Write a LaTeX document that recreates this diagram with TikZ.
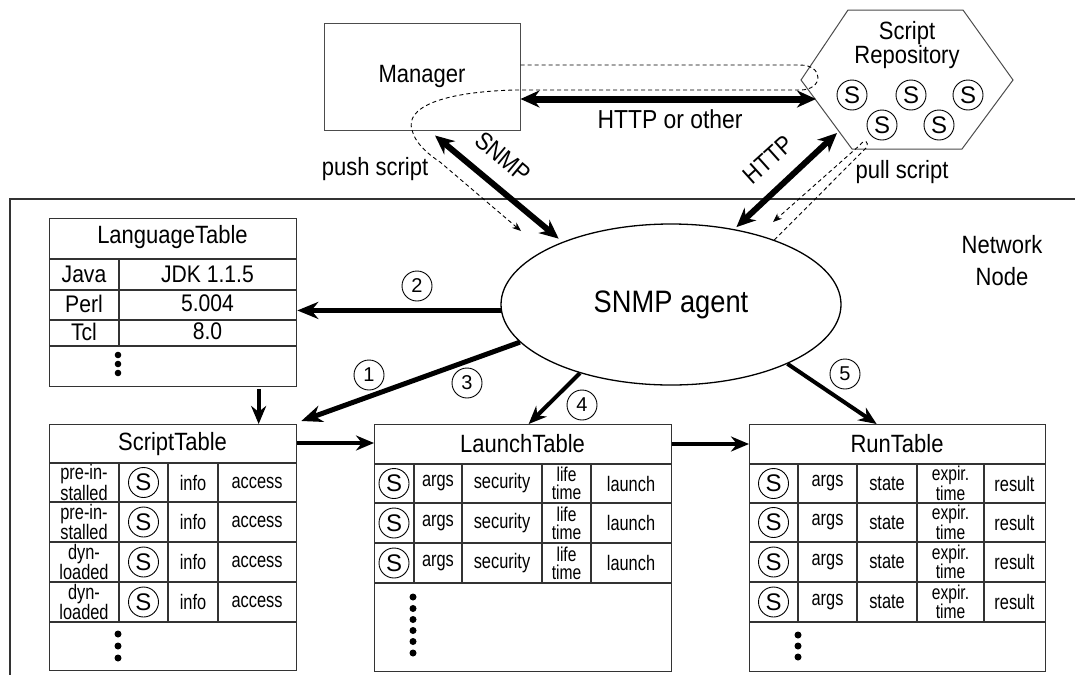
\documentclass[tikz,border=0pt]{standalone}
\usepackage{fontspec}
\setmainfont[FakeStretch=0.88]{Liberation Sans}
\newfontfamily\cellfont[FakeStretch=0.78]{Liberation Sans}
\newfontfamily\plainsans{Liberation Sans}
\usetikzlibrary{arrows.meta,shapes.geometric,calc}

\tikzset{
  tabbox/.style={draw=black!80, line width=1.3pt, anchor=north west, inner sep=0pt},
  tabline/.style={draw=black!80, line width=1.3pt},
  tabtitle/.style={font=\fontsize{25}{25}\selectfont, inner sep=0pt},
  langcell/.style={font=\fontsize{24}{24}\selectfont, inner sep=0pt},
  tabcell/.style={font=\cellfont\fontsize{21}{19}\selectfont, inner sep=0pt, align=center},
  twoline/.style={font=\cellfont\fontsize{20}{18}\selectfont, inner sep=0pt, align=center},
  sbadge/.style={circle, draw=black, line width=0.9pt, minimum size=30pt, inner sep=0pt,
                 font=\plainsans\fontsize{24}{24}\selectfont},
  stepnum/.style={circle, draw=black, line width=0.9pt, minimum size=30pt, inner sep=0pt,
                  font=\plainsans\fontsize{20}{20}\selectfont},
  lbl/.style={font=\fontsize{25}{24}\selectfont, inner sep=0pt, align=center},
  dashline/.style={line width=0.9pt, dash pattern=on 4pt off 3pt,
                   -{Stealth[length=9pt,width=7pt]}},
  fatarrow/.style={line width=5pt, -{Stealth[length=21pt,width=17pt]}},
  midarrow/.style={line width=4pt, -{Stealth[length=18pt,width=15pt]}},
  bothways/.style={line width=6pt, {Stealth[length=19pt,width=17pt]}-{Stealth[length=19pt,width=17pt]}},
  dot/.style={fill=black}
}

\begin{document}
\begin{tikzpicture}[x=1pt,y=-1pt]
\useasboundingbox (0,0) rectangle (1075,675);
\fill[white] (0,0) rectangle (1075,675);

% boundary of the network node
\draw[line width=1.1pt, black!80] (1075,199) -- (10,199) -- (10,675);
\node[lbl, font=\fontsize{25}{32}\selectfont] (net) at (1002,261) {Network\\Node};

% manager
\node[draw=black!70, line width=1pt, minimum width=196pt, minimum height=107pt,
      font=\fontsize{25}{25}\selectfont] (mgr) at (422,76.5) {Manager};

% script repository
\coordinate (hxa) at (848,10);
\coordinate (hxb) at (963,10);
\coordinate (hxc) at (1013,80);
\coordinate (hxd) at (962,149);
\coordinate (hxe) at (852,149);
\coordinate (hxf) at (801,80);
\draw[black!70, line width=1pt] (hxa) -- (hxb) -- (hxc) -- (hxd) -- (hxe) -- (hxf) -- cycle;
\node[lbl] (repo) at (907,45) {Script\\Repository};
\node[sbadge] (rs1) at (852,95) {S};
\node[sbadge] (rs2) at (911,95) {S};
\node[sbadge] (rs3) at (968,95) {S};
\node[sbadge] (rs4) at (882,125) {S};
\node[sbadge] (rs5) at (939,125) {S};
\coordinate (repoleft) at (816,99);
\coordinate (repolow) at (837,133);

% SNMP agent
\node[ellipse, draw=black, line width=1.3pt, minimum width=340pt, minimum height=161pt,
      inner sep=0pt, font=\fontsize{31}{31}\selectfont] (agent) at (671,304.5) {SNMP agent};

% LanguageTable
\node[tabbox, minimum width=247pt, minimum height=168pt] (langtab) at (49,218) {};
\draw[tabline] (49,259) -- (296,259);
\draw[tabline] (49,290) -- (296,290);
\draw[tabline] (49,320) -- (296,320);
\draw[tabline] (49,346) -- (296,346);
\draw[tabline] (119,259) -- (119,346);
\node[tabtitle] (langtitle) at (172.5,237) {LanguageTable};
\node[langcell] (lj) at (84,274) {Java};
\node[langcell] (ljv) at (207.5,274) {JDK 1.1.5};
\node[langcell] (lp) at (84,304) {Perl};
\node[langcell] (lpv) at (207.5,303) {5.004};
\node[langcell] (lt) at (84,332) {Tcl};
\node[langcell] (ltv) at (207.5,331) {8.0};
\foreach \y in {355,364,373} \fill[dot] (118,\y) circle (3.3pt);

% ScriptTable
\node[tabbox, minimum width=247pt, minimum height=246pt] (scripttab) at (49,424) {};
\foreach \y in {463,502,542,582,622} \draw[tabline] (49,\y) -- (296,\y);
\foreach \x in {119,168,218} \draw[tabline] (\x,463) -- (\x,622);
\node[tabtitle] (scripttitle) at (172.5,444) {ScriptTable};
\foreach \y/\a/\b [count=\i] in {482.5/pre-in-/stalled, 522/pre-in-/stalled,
                                 562/dyn-/loaded, 602/dyn-/loaded} {
  \node[tabcell] (sk\i) at (84,\y) {\a\\\b};
  \node[sbadge] (ss\i) at (143.5,\y) {S};
  \node[tabcell] (si\i) at (193,\y) {info};
  \node[tabcell] (sa\i) at (257,\y) {access};
}
\foreach \y in {634,646,658} \fill[dot] (118,\y) circle (3.5pt);

% LaunchTable
\node[tabbox, minimum width=297pt, minimum height=247pt] (launchtab) at (374,424) {};
\foreach \y in {464,503,543,583} \draw[tabline] (374,\y) -- (671,\y);
\foreach \x in {414,462,542,591} \draw[tabline] (\x,464) -- (\x,583);
\node[tabtitle] (launchtitle) at (522.5,444) {LaunchTable};
\foreach \y [count=\i] in {483.5,523,563} {
  \node[sbadge] (ls\i) at (394,\y) {S};
  \node[tabcell] (la\i) at (438,\y) {args};
  \node[tabcell] (lsec\i) at (502,\y) {security};
  \node[twoline] (ll\i) at (566.5,\y) {life\\time};
  \node[tabcell] (lx\i) at (631,\y) {launch};
}
\foreach \y in {597,608.5,619.5,630.5,641.5,653} \fill[dot] (413,\y) circle (3.5pt);

% RunTable
\node[tabbox, minimum width=296pt, minimum height=247pt] (runtab) at (749,424) {};
\foreach \y in {464,503,542,582,622} \draw[tabline] (749,\y) -- (1045,\y);
\foreach \x in {798,857,917,984} \draw[tabline] (\x,464) -- (\x,622);
\node[tabtitle] (runtitle) at (897,444) {RunTable};
\foreach \y [count=\i] in {483.5,522.5,562,602} {
  \node[sbadge] (rsx\i) at (773.5,\y) {S};
  \node[tabcell] (ra\i) at (827.5,\y) {args};
  \node[tabcell] (rst\i) at (887,\y) {state};
  \node[twoline] (re\i) at (950.5,\y) {expir.\\time};
  \node[tabcell] (rr\i) at (1014.5,\y) {result};
}
\foreach \y in {635,646,657} \fill[dot] (798,\y) circle (3.5pt);

% links between the tables
\draw[midarrow] ([xshift=85.5pt,yshift=-2pt]langtab.south) -- ([xshift=85.5pt]scripttab.north);
\draw[midarrow] ([yshift=-19pt]scripttab.north east) -- ([yshift=-19pt]launchtab.north west);
\draw[midarrow] ([yshift=-20pt]launchtab.north east) -- ([yshift=-20pt]runtab.north west);

% agent operations on the tables
\draw[fatarrow] (agent.182) -- (agent.182 -| langtab.east);
\draw[fatarrow] (agent.194) -- ([shift={(4pt,3pt)}]scripttab.north east);
\draw[midarrow] (agent.217) -- ([xshift=5.5pt]launchtab.north);
\draw[midarrow] (agent.333) -- ([xshift=-21pt]runtab.north);
\node[stepnum] (n1) at (369,375) {1};
\node[stepnum] (n2) at (417,286) {2};
\node[stepnum] (n3) at (467,383) {3};
\node[stepnum] (n4) at (582,405) {4};
\node[stepnum] (n5) at (845,374) {5};

% protocols
\draw[bothways, line width=7pt] ([yshift=-22.5pt]mgr.east) -- (repoleft);
\node[lbl, font=\fontsize{26}{26}\selectfont] (httpother) at (670,119) {HTTP or other};
\draw[bothways, shorten >=5pt] ([xshift=13pt,yshift=-5pt]mgr.south) -- (agent.150);
\node[lbl, rotate=-40] (snmplbl) at (503,157) {SNMP};
\draw[bothways, shorten <=3pt] (agent.50) -- (repolow);
\node[lbl, rotate=42] (httplbl) at (768,160) {HTTP};

% script transfers
\draw[dashline] ([yshift=11.5pt]mgr.east) -- (800,65)
  .. controls (824,65) and (824,90) .. (800,90) -- (515,90)
  .. controls (440,92) and (405,108) .. (412,130)
  .. controls (415,142) and (425,152) .. (440,162) -- (521,231);
\node[lbl] (pushlbl) at (375,169) {push script};
\draw[dashline] (agent.32) -- (866,148)
  .. controls (870,141) and (864,139) .. (860,145) -- (773,222);
\node[lbl] (pulllbl) at (902,172) {pull script};
\end{tikzpicture}
\end{document}
